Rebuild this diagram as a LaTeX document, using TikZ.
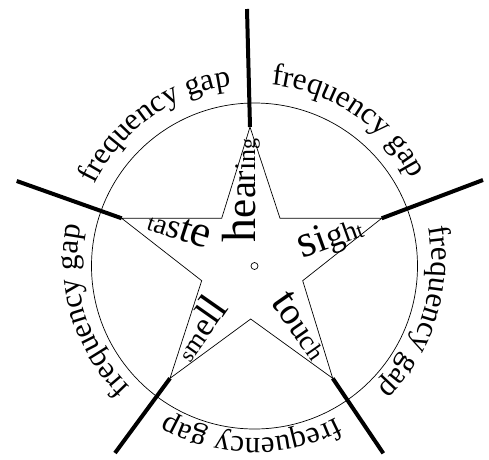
\documentclass[tikz,border=0pt]{standalone}
\usepackage{fontspec}
\setmainfont{Liberation Serif}
\usetikzlibrary{calc}

\begin{document}
\begin{tikzpicture}[
    x=1pt, y=1pt,
    starline/.style={line width=0.7pt},
    gapbar/.style={line width=4pt},
    letter/.style={inner sep=0pt, outer sep=0pt, anchor=base west},
    gapletter/.style={inner sep=0pt, outer sep=0pt, anchor=base}
]

\useasboundingbox (-254.5,-193) rectangle (234.5,266);

\coordinate (O) at (0,0);
\coordinate (G) at (0,5);

% ------------------------------------------------
% Star points
% ------------------------------------------------

\coordinate (tipT)  at (-4.5,139);
\coordinate (inTR)  at (25.5,47.7);
\coordinate (tipR)  at (127.2,47.7);
\coordinate (inR)   at (48.2,-14.7);
\coordinate (tipBR) at (78.2,-112.3);
\coordinate (inB)   at (-3.8,-53);
\coordinate (tipBL) at (-84.5,-112.3);
\coordinate (inL)   at (-52.8,-14.7);
\coordinate (tipL)  at (-132.8,47.7);
\coordinate (inTL)  at (-32.8,47.7);

\coordinate (endT)  at (-7.5,257);
\coordinate (endR)  at (228.5,86);
\coordinate (endBR) at (128.8,-187.3);
\coordinate (endBL) at (-139.5,-187);
\coordinate (endL)  at (-237.8,85);

\draw[starline] (O) circle[radius=163];
\draw[starline] (O) circle[radius=3.5];

\draw[starline] (tipT) -- (inTR) -- (tipR) -- (inR) -- (tipBR) -- (inB)
    -- (tipBL) -- (inL) -- (tipL) -- (inTL) -- cycle;

\draw[gapbar] (tipT) -- (endT);
\draw[gapbar] (tipR) -- (endR);
\draw[gapbar] (tipBR) -- (endBR);
\draw[gapbar] (tipBL) -- (endBL);
\draw[gapbar] (tipL) -- (endL);

% ------------------------------------------------
% Frequency gaps (letter centres in em from the middle of the word)
% ------------------------------------------------

\foreach \a [count=\k] in {126,56,-17.5,-91,197}
    \foreach \ch/\u [count=\i] in {f/-2.6795, r/-2.3465, e/-1.958, q/-1.486,
        u/-0.986, e/-0.514, n/-0.042, c/0.430, y/0.902, g/1.652, a/2.124, p/2.596}
    {
        \pgfmathsetmacro{\ang}{\a - \u*31/177*57.2958}
        \node[gapletter, rotate=\ang-90] (gap\k-\i) at ($(G)+(\ang:177)$)
            {\fontsize{31}{31}\selectfont \ch};
    }

% ------------------------------------------------
% Senses
% ------------------------------------------------

\node[letter, rotate=90] (hear0) at (0.5,23) {};
\foreach \ch/\s [count=\i, remember=\i as \j (initially 0)] in
    {h/48, e/43, a/38, r/34, i/30, n/26, g/22}
    \node[letter, rotate=90] (hear\i) at (hear\j.base east)
        {\fontsize{\s}{\s}\selectfont \ch};

\node[letter, rotate=-18] (taste0) at (-109.5,37) {};
\foreach \ch/\s [count=\i, remember=\i as \j (initially 0)] in
    {t/23, a/29, s/35, t/40, e/45}
    \node[letter, rotate=-18] (taste\i) at (taste\j.base east)
        {\fontsize{\s}{\s}\selectfont \ch};

\node[letter, rotate=20] (sight0) at (47.5,7) {};
\foreach \ch/\s [count=\i, remember=\i as \j (initially 0)] in
    {s/46, i/40, g/34, h/28, t/22}
    \node[letter, rotate=20] (sight\i) at (sight\j.base east)
        {\fontsize{\s}{\s}\selectfont \ch};

\node[letter, rotate=55] (smell0) at (-64.5,-98) {};
\foreach \ch/\s [count=\i, remember=\i as \j (initially 0)] in
    {s/22, m/27, e/33, l/39, l/44}
    \node[letter, rotate=55] (smell\i) at (smell\j.base east)
        {\fontsize{\s}{\s}\selectfont \ch};

\node[letter, rotate=-55] (touch0) at (15.5,-36) {};
\foreach \ch/\s [count=\i, remember=\i as \j (initially 0)] in
    {t/44, o/38, u/33, c/28, h/24}
    \node[letter, rotate=-55] (touch\i) at (touch\j.base east)
        {\fontsize{\s}{\s}\selectfont \ch};

\end{tikzpicture}
\end{document}
